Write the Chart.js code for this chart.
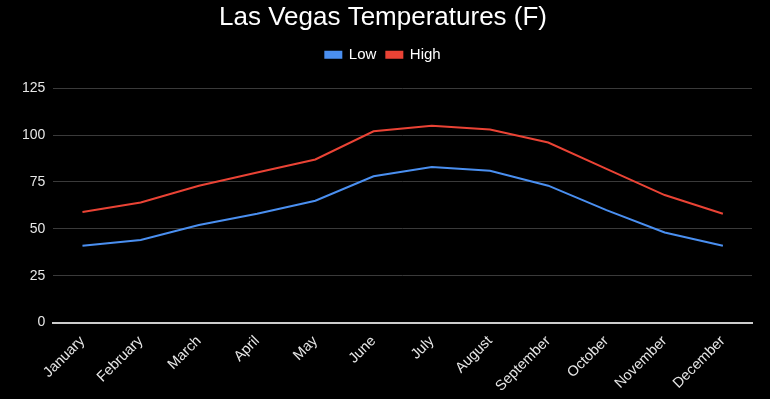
<!DOCTYPE html>
<html>
<head>
<meta charset="utf-8">
<script src="https://cdn.jsdelivr.net/npm/chart.js@4/dist/chart.umd.min.js"></script>
<style>
  html, body { margin: 0; padding: 0; background: #000; }
  #wrap { width: 770px; height: 399px; }
</style>
</head>
<body>
<div id="wrap"><canvas id="myChart"></canvas></div>
<script>
const months = ["January", "February", "March", "April", "May", "June",
  "July", "August", "September", "October", "November", "December"];
const lowTemps = [41, 44, 52, 58, 65, 78, 83, 81, 73, 60, 48, 41];
const highTemps = [59, 64, 73, 80, 87, 102, 105, 103, 96, 82, 68, 58];
const yTicks = [0, 25, 50, 75, 100, 125];

// black page background behind the chart
const blackBg = {
  id: "blackBg",
  beforeDraw(chart) {
    const c = chart.ctx;
    c.save();
    c.fillStyle = "#000";
    c.fillRect(0, 0, chart.width, chart.height);
    c.restore();
  }
};

// extra gap under the legend
const legendGap = {
  id: "legendGap",
  beforeInit(chart) {
    const fit = chart.legend.fit;
    chart.legend.fit = function () {
      fit.call(this);
      this.height += 16;
    };
  }
};

Chart.defaults.font.family = "'Liberation Sans', Arial, sans-serif";
Chart.defaults.color = "#e6e6e6";

new Chart(document.getElementById("myChart"), {
  type: "line",
  data: {
    labels: months,
    datasets: [
      {
        label: "Low",
        data: lowTemps,
        borderColor: "#4a8ff0",
        backgroundColor: "#4a8ff0",
        borderWidth: 2,
        pointRadius: 0,
        tension: 0
      },
      {
        label: "High",
        data: highTemps,
        borderColor: "#ea4335",
        backgroundColor: "#ea4335",
        borderWidth: 2,
        pointRadius: 0,
        tension: 0
      }
    ]
  },
  options: {
    responsive: true,
    maintainAspectRatio: false,
    animation: false,
    layout: { padding: { left: 14, right: 18, top: 0, bottom: 2 } },
    plugins: {
      title: {
        display: true,
        text: "Las Vegas Temperatures (F)",
        color: "#ffffff",
        font: { size: 26, weight: "normal" },
        padding: { top: 2, bottom: 4 }
      },
      legend: {
        labels: {
          color: "#ffffff",
          boxWidth: 16,
          boxHeight: 6,
          padding: 10,
          font: { size: 15 }
        }
      },
      tooltip: { enabled: false }
    },
    scales: {
      x: {
        grid: { display: false },
        border: { display: true, color: "#cccccc", width: 2 },
        offset: true,
        ticks: {
          color: "#e6e6e6",
          font: { size: 14.5 },
          maxRotation: 45,
          minRotation: 45,
          autoSkip: false,
          padding: 2
        }
      },
      y: {
        min: 0,
        max: 125,
        afterBuildTicks(axis) {
          axis.ticks = yTicks.map(v => ({ value: v }));
        },
        border: { display: false },
        grid: {
          color: ctx => (ctx.tick && ctx.tick.value === 0 ? "#cccccc" : "#3a3a3a"),
          lineWidth: 1,
          drawTicks: false
        },
        ticks: {
          color: "#e6e6e6",
          font: { size: 14 },
          padding: 8
        }
      }
    }
  },
  plugins: [blackBg, legendGap]
});
</script>
</body>
</html>
